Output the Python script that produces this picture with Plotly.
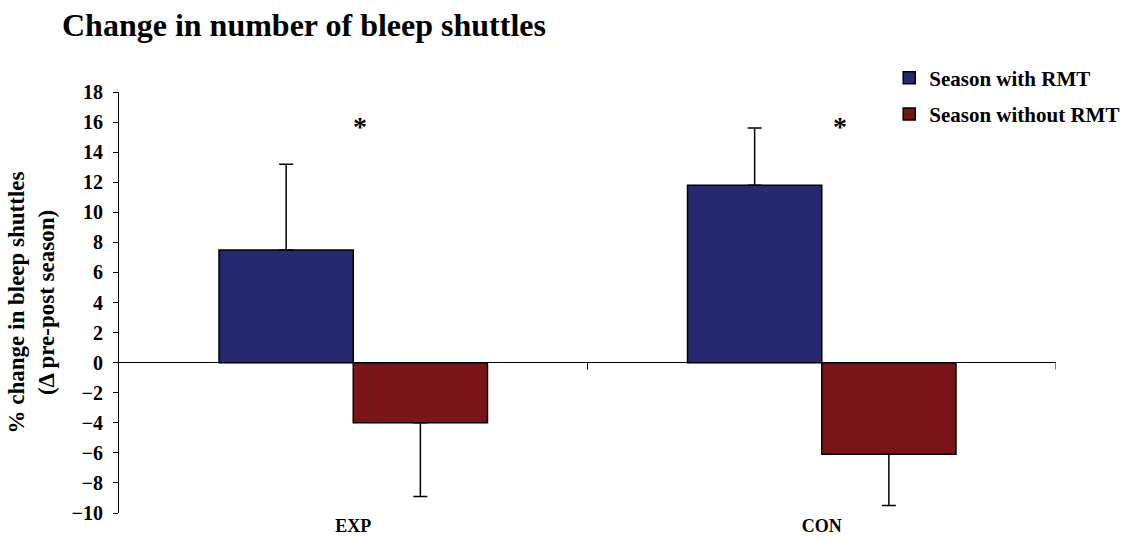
import plotly.graph_objects as go

# Group labels and series values (% change in bleep shuttles, pre-post season)
groups = ["EXP", "CON"]
series_names = ["Season with RMT", "Season without RMT"]
with_rmt = [7.5, 11.8]
with_rmt_err = [5.7, 3.8]
without_rmt = [-4.0, -6.1]
without_rmt_err = [4.9, 3.4]
y_ticks = list(range(-10, 19, 2))
sig_marks = ["*", "*"]
sig_level = [15.7, 15.7]

FONT = "Liberation Serif, Times New Roman, serif"
BLUE = "#262970"
RED = "#7A1517"

fig = go.Figure()
fig.add_trace(go.Bar(
    x=groups, y=with_rmt, name=series_names[0], legendgroup="a",
    marker=dict(color=BLUE, line=dict(color="black", width=1.5)),
    error_y=dict(type="data", symmetric=False, array=with_rmt_err,
                 arrayminus=[0] * len(groups), color="black",
                 thickness=1.5, width=7),
))
fig.add_trace(go.Bar(
    x=groups, y=without_rmt, name=series_names[1], legendgroup="b",
    marker=dict(color=RED, line=dict(color="black", width=1.5)),
    error_y=dict(type="data", symmetric=False, array=[0] * len(groups),
                 arrayminus=without_rmt_err, color="black",
                 thickness=1.5, width=7),
))

# significance asterisks above each group
for i, (mark, lvl) in enumerate(zip(sig_marks, sig_level)):
    fig.add_annotation(
        x=i + (0.015 if i == 0 else 0.04), y=lvl, text=mark, showarrow=False,
        xref="x", yref="y", yanchor="middle",
        font=dict(family=FONT, size=28, color="black", weight="bold"),
    )

# tick marks hanging below the zero line between/at the ends of categories
for xp in [0.5, 1.5]:
    fig.add_shape(type="line", xref="x", yref="y", x0=xp, x1=xp,
                  ysizemode="pixel", yanchor=0, y0=0, y1=-7,
                  line=dict(color="black", width=1))

fig.update_layout(
    width=1137, height=538,
    margin=dict(l=119, r=81, t=92, b=25, autoexpand=False),
    paper_bgcolor="white", plot_bgcolor="white",
    barmode="group", bargap=0.427, bargroupgap=0,
    title=dict(text="Change in number of bleep shuttles",
               x=62 / 1137, xanchor="left", y=1 - 25 / 538, yanchor="middle",
               font=dict(family=FONT, size=32, color="black", weight="bold")),
    legend=dict(x=0.822, y=1.082, xanchor="left", yanchor="top",
                font=dict(family=FONT, size=21, color="black", weight="bold"),
                tracegroupgap=6, bgcolor="rgba(0,0,0,0)"),
    font=dict(family=FONT, color="black"),
)
fig.update_xaxes(
    range=[-0.5, 1.5], showline=False, showgrid=False, ticks="",
    tickfont=dict(family=FONT, size=18, color="black", weight="bold"),
    fixedrange=True,
)
fig.update_yaxes(
    range=[-10, 18], tickvals=y_ticks, showgrid=False,
    showline=True, linecolor="black", linewidth=1,
    ticks="outside", ticklen=5, tickcolor="black", ticklabelstandoff=6,
    zeroline=True, zerolinecolor="black", zerolinewidth=1,
    tickfont=dict(family=FONT, size=20, color="black", weight="bold"),
    title=dict(text="% change in bleep shuttles<br>(Δ pre-post season)",
               font=dict(family=FONT, size=23, color="black", weight="bold"),
               standoff=10),
)

fig.write_html("out.html")
